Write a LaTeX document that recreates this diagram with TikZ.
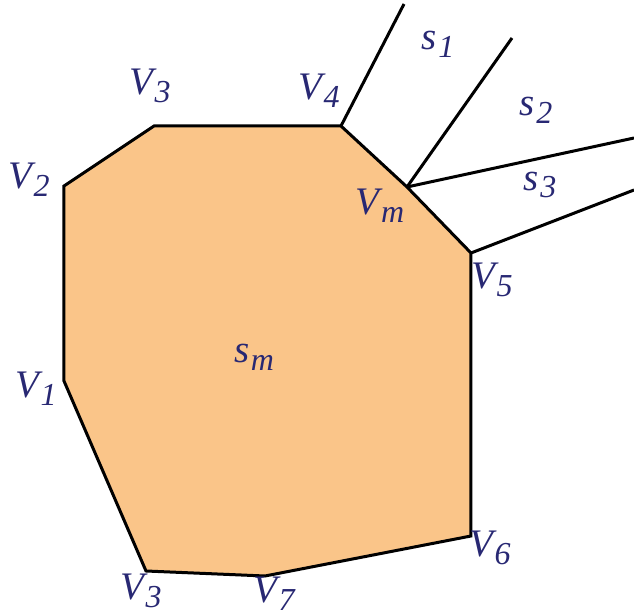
\documentclass[tikz,border=0pt]{standalone}
\usepackage{fontspec}
\setmainfont{Liberation Serif}[ItalicFont={Liberation Serif Italic}]
\definecolor{lblue}{RGB}{40,40,115}
\definecolor{cellfill}{RGB}{250,197,137}
\newcommand{\vlab}[2]{#1\kern0.8pt\raisebox{-0.2em}{\fontsize{16}{17}\selectfont #2}}

\begin{document}
\begin{tikzpicture}[x=0.5pt, y=-0.5pt,
  lab/.style={text=lblue, font=\fontsize{19.5}{22}\selectfont\itshape, inner sep=0pt},
  edge/.style={line width=1.5pt, line join=miter}]
\useasboundingbox (0,0) rectangle (634,615);
\coordinate (V1) at (64,381);
\coordinate (V2) at (64,186);
\coordinate (V3) at (154,126);
\coordinate (V4) at (341,126);
\coordinate (Vm) at (407,187);
\coordinate (V5) at (471,253);
\coordinate (V6) at (471,536);
\coordinate (V7) at (265,576);
\coordinate (V3b) at (146,571);
\filldraw[fill=cellfill, edge] (V1) -- (V2) -- (V3) -- (V4) -- (Vm) -- (V5) -- (V6) -- (V7) -- (V3b) -- cycle;
% rays of the neighbouring cells
\coordinate (R1) at (404,4);
\coordinate (R2) at (512,38);
\coordinate (R3) at (634,138);
\coordinate (R4) at (634,190);
\draw[edge] (V4) -- (R1);
\draw[edge] (Vm) -- (R2);
\draw[edge] (Vm) -- (R3);
\draw[edge] (V5) -- (R4);
% labels
\node[lab] (lV3) at (150,86) {\vlab{V}{3}};
\node[lab] (lV4) at (319,91) {\vlab{V}{4}};
\node[lab] (lV2) at (29,180) {\vlab{V}{2}};
\node[lab] (lV1) at (36,389) {\vlab{V}{1}};
\node[lab] (lV3b) at (141,591) {\vlab{V}{3}};
\node[lab] (lV7) at (274,594) {\vlab{V}{7}};
\node[lab] (lV6) at (490,548) {\vlab{V}{6}};
\node[lab] (lV5) at (492,280) {\vlab{V}{5}};
\node[lab] (lVm) at (380,206) {\vlab{V}{m}};
\node[lab] (ls1) at (438,44) {\vlab{s}{1}};
\node[lab] (ls2) at (536,110) {\vlab{s}{2}};
\node[lab] (ls3) at (540,185) {\vlab{s}{3}};
\node[lab] (lsm) at (254,357) {\vlab{s}{m}};
\end{tikzpicture}
\end{document}
